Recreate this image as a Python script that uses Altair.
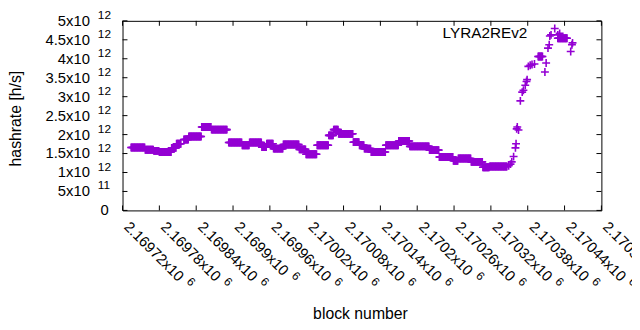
import altair as alt
import pandas as pd

# ---- data (hashrate in units of 1e12 h/s) ----
seg_start = [2169734, 2169757, 2169771, 2169780, 2169800, 2169808, 2169820, 2169828,
             2169849, 2169865, 2169893, 2169915, 2169927, 2169947, 2169955, 2169966,
             2169982, 2170008, 2170019, 2170037, 2170056, 2170064, 2170072, 2170096,
             2170106, 2170114, 2170125, 2170149, 2170170, 2170188, 2170220, 2170236,
             2170259, 2170267, 2170288, 2170307, 2170318, 2170397, 2170429]
seg_end = [2169757, 2169771, 2169780, 2169800, 2169808, 2169816, 2169828, 2169849,
           2169865, 2169891, 2169915, 2169927, 2169947, 2169955, 2169966, 2169982,
           2170008, 2170019, 2170037, 2170056, 2170064, 2170072, 2170096, 2170106,
           2170114, 2170125, 2170149, 2170170, 2170188, 2170220, 2170236, 2170259,
           2170267, 2170288, 2170307, 2170318, 2170347, 2170405, 2170445]
seg_rate = [1.66, 1.60, 1.57, 1.54, 1.65, 1.76, 1.87, 1.95,
            2.20, 2.13, 1.79, 1.72, 1.79, 1.67, 1.76, 1.63,
            1.74, 1.61, 1.48, 1.72, 1.98, 2.13, 2.02, 1.80,
            1.72, 1.63, 1.54, 1.72, 1.83, 1.69, 1.59, 1.41,
            1.31, 1.37, 1.28, 1.14, 1.16, 4.06, 4.54]

pt_block = [2170349, 2170352, 2170354, 2170357, 2170360, 2170361, 2170362, 2170363,
            2170365, 2170368, 2170371, 2170373, 2170376, 2170378, 2170379, 2170381,
            2170384, 2170387, 2170391, 2170408, 2170410, 2170413, 2170415, 2170416,
            2170418, 2170424, 2170429, 2170432, 2170450, 2170452, 2170453]
pt_rate = [1.18, 1.22, 1.28, 1.42, 1.65, 1.76, 2.15, 2.20,
           2.12, 2.89, 3.12, 3.17, 3.30, 3.40, 3.45, 3.80,
           3.83, 3.85, 3.86, 3.65, 3.89, 4.28, 4.37, 4.60,
           4.63, 4.80, 4.63, 4.67, 4.19, 4.37, 4.42]

x_ticks = [2169720, 2169780, 2169840, 2169900, 2169960, 2170020, 2170080,
           2170140, 2170200, 2170260, 2170320, 2170380, 2170440, 2170500]
x_tick_main = ["2.16972x10", "2.16978x10", "2.16984x10", "2.1699x10", "2.16996x10",
               "2.17002x10", "2.17008x10", "2.17014x10", "2.1702x10", "2.17026x10",
               "2.17032x10", "2.17038x10", "2.17044x10", "2.1705x10"]
x_tick_exp = ["6"] * 14

y_ticks = [0, 0.5, 1, 1.5, 2, 2.5, 3, 3.5, 4, 4.5, 5]
y_tick_main = ["0", "5x10", "1x10", "1.5x10", "2x10", "2.5x10", "3x10", "3.5x10",
               "4x10", "4.5x10", "5x10"]
y_tick_exp = ["", "11", "12", "12", "12", "12", "12", "12", "12", "12", "12"]

series_name = "LYRA2REv2"
x_title = "block number"
y_title = "hashrate [h/s]"

# ---- build tables ----
rows = []
for s, e, v in zip(seg_start, seg_end, seg_rate):
    for b in range(s, e):
        rows.append((b, v * 1e12))
for b, v in zip(pt_block, pt_rate):
    rows.append((b, v * 1e12))
df = pd.DataFrame(rows, columns=["block", "hashrate"])

xt = pd.DataFrame({"block": x_ticks, "main": x_tick_main, "exp": x_tick_exp})
yt = pd.DataFrame({"val": [v * 1e12 for v in y_ticks], "main": y_tick_main, "exp": y_tick_exp})

W, H = 485, 192
FONT = "Liberation Sans"
PURPLE = "#9400D3"
xscale = alt.Scale(domain=[2169720, 2170500], nice=False, zero=False)
yscale = alt.Scale(domain=[0, 5e12], nice=False, zero=True)

cross = "M-1,0L1,0M0,-1L0,1"

points = alt.Chart(df).mark_point(
    shape=cross, filled=False, size=64, strokeWidth=1.6, color=PURPLE, opacity=1
).encode(
    x=alt.X("block:Q", scale=xscale, axis=None),
    y=alt.Y("hashrate:Q", scale=yscale, axis=None),
)

tick_bottom = alt.Chart(xt).mark_rule(color="black", strokeWidth=1).encode(
    x=alt.X("block:Q", scale=xscale, axis=None), y=alt.value(H), y2=alt.value(H - 5))
tick_top = alt.Chart(xt).mark_rule(color="black", strokeWidth=1).encode(
    x=alt.X("block:Q", scale=xscale, axis=None), y=alt.value(0), y2=alt.value(5))
tick_left = alt.Chart(yt).mark_rule(color="black", strokeWidth=1).encode(
    y=alt.Y("val:Q", scale=yscale, axis=None), x=alt.value(0), x2=alt.value(5))
tick_right = alt.Chart(yt).mark_rule(color="black", strokeWidth=1).encode(
    y=alt.Y("val:Q", scale=yscale, axis=None), x=alt.value(W), x2=alt.value(W - 5))

txt = dict(font=FONT, color="black")

x_main = alt.Chart(xt).mark_text(angle=45, align="left", baseline="middle", dx=3, dy=-3,
                                 fontSize=15, **txt).encode(
    x=alt.X("block:Q", scale=xscale, axis=None), y=alt.value(H + 14), text="main:N")
x_exp_long = alt.Chart(xt).transform_filter("length(datum.main) > 9").mark_text(
    angle=45, align="left", baseline="middle", dx=87, dy=-8, fontSize=12, **txt).encode(
    x=alt.X("block:Q", scale=xscale, axis=None), y=alt.value(H + 14), text="exp:N")
x_exp_short = alt.Chart(xt).transform_filter("length(datum.main) <= 9").mark_text(
    angle=45, align="left", baseline="middle", dx=79, dy=-8, fontSize=12, **txt).encode(
    x=alt.X("block:Q", scale=xscale, axis=None), y=alt.value(H + 14), text="exp:N")

y_main = alt.Chart(yt).transform_filter("datum.exp != ''").mark_text(
    align="right", baseline="middle", fontSize=15, **txt).encode(
    y=alt.Y("val:Q", scale=yscale, axis=None), x=alt.value(-33), text="main:N")
y_zero = alt.Chart(yt).transform_filter("datum.exp == ''").mark_text(
    align="right", baseline="middle", fontSize=15, **txt).encode(
    y=alt.Y("val:Q", scale=yscale, axis=None), x=alt.value(-14), text="main:N")
y_exp = alt.Chart(yt).transform_filter("datum.exp != ''").mark_text(
    align="left", baseline="middle", dy=-6, fontSize=12, **txt).encode(
    y=alt.Y("val:Q", scale=yscale, axis=None), x=alt.value(-25), text="exp:N")

key = alt.Chart(pd.DataFrame({"name": [series_name]})).mark_text(
    align="right", baseline="middle", fontSize=15.5, **txt).encode(
    text="name:N", x=alt.value(410), y=alt.value(12.5))

xtitle = alt.Chart(pd.DataFrame({"t": [x_title]})).mark_text(
    align="center", baseline="middle", fontSize=16, **txt).encode(
    text="t:N", x=alt.value(241), y=alt.value(H + 105))
ytitle = alt.Chart(pd.DataFrame({"t": [y_title]})).mark_text(
    align="center", baseline="middle", fontSize=16, angle=270, **txt).encode(
    text="t:N", x=alt.value(-108), y=alt.value(99))

chart = alt.layer(
    points, tick_bottom, tick_top, tick_left, tick_right,
    x_main, x_exp_long, x_exp_short, y_main, y_zero, y_exp, key, xtitle, ytitle
).properties(
    width=W, height=H,
    autosize=alt.AutoSizeParams(type="none"),
    padding={"left": 116, "top": 11, "right": 31, "bottom": 111},
    background="white",
).configure_view(stroke="black", strokeWidth=1)

chart.save("out.html", embed_options={"renderer": "svg", "actions": False})
